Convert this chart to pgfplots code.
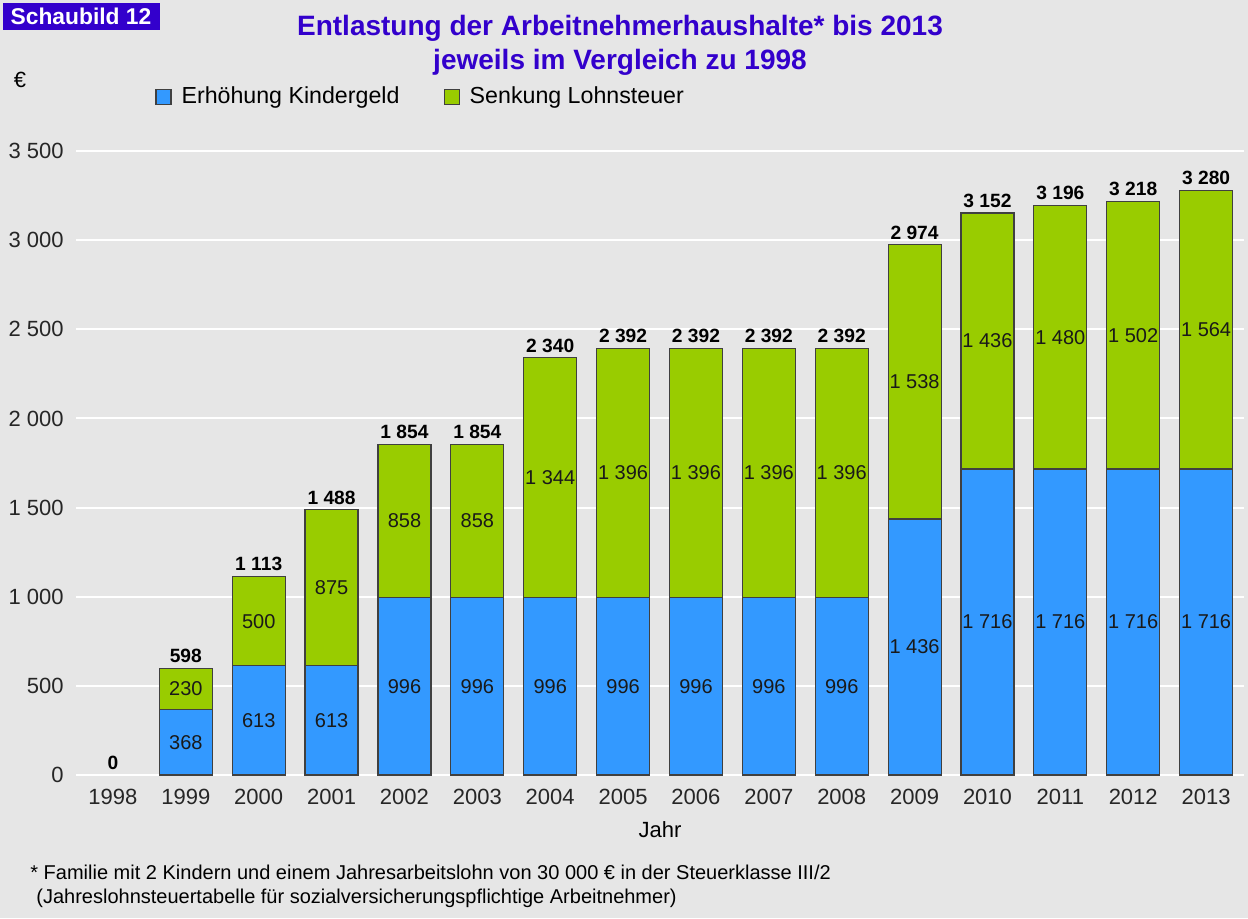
\documentclass[border=0pt]{standalone}
\usepackage{pgfplots}
\pgfplotsset{compat=1.18}
\usepackage{pgfplotstable}
\usepackage{fontspec}
\setmainfont{Liberation Sans}

\definecolor{bg}{HTML}{E6E6E6}
\definecolor{titleblue}{HTML}{3300CC}
\definecolor{kgeld}{HTML}{3399FF}
\definecolor{lsteuer}{HTML}{99CC00}

% x = position, b = Kindergeld, g = Lohnsteuer, t = total
\pgfplotstableread{
x jahr b g t
0 1998 0 0 0
1 1999 368 230 598
2 2000 613 500 1113
3 2001 613 875 1488
4 2002 996 858 1854
5 2003 996 858 1854
6 2004 996 1344 2340
7 2005 996 1396 2392
8 2006 996 1396 2392
9 2007 996 1396 2392
10 2008 996 1396 2392
11 2009 1436 1538 2974
12 2010 1716 1436 3152
13 2011 1716 1480 3196
14 2012 1716 1502 3218
15 2013 1716 1564 3280
}\data

\pgfplotsset{
  common/.style={
    at={(38pt,71.5pt)}, anchor=south west,
    scale only axis, width=584pt, height=312pt,
    xmin=-0.507, xmax=15.52, ymin=0, ymax=3500,
    /pgf/number format/assume math mode=true,
    /pgf/number format/1000 sep={\ },
  },
}

\begin{document}
\begin{tikzpicture}
\fill[bg] (0,0) rectangle (624pt,459pt);

% label box top left
\fill[titleblue] (1.5pt,444pt) rectangle (80pt,457.5pt);
\node[text=white, font=\bfseries\fontsize{11.4}{13}\selectfont] at (40.5pt,450.8pt) {Schaubild 12};

% title
\node[font=\bfseries\fontsize{14}{17}\selectfont, align=center, text=titleblue] at (310pt,436.5pt)
  {Entlastung der Arbeitnehmerhaushalte* bis 2013\\jeweils im Vergleich zu 1998};

\node[font=\fontsize{11}{13}\selectfont] at (10pt,419pt) {€};

\begin{axis}[common,
  ybar stacked, bar width=26.5pt,
  axis line style={draw=none}, major tick style={draw=none},
  ytick={0,500,...,3500},
  ymajorgrids, grid style={white, line width=1pt},
  xtick={0,...,15},
  xticklabels={1998,1999,2000,2001,2002,2003,2004,2005,2006,2007,2008,2009,2010,2011,2012,2013},
  tick label style={font=\fontsize{11}{13}\selectfont, text=black!85},
  yticklabel style={anchor=east, inner sep=0pt, xshift=-6pt},
  xticklabel style={anchor=center, inner sep=0pt, yshift=-11pt},
  xlabel={Jahr},
  xlabel style={at={(axis description cs:0.5,-0.088)}, anchor=center, inner sep=0pt, font=\fontsize{11}{13}\selectfont},
  legend style={at={(axis description cs:0.0676,1.0865)}, anchor=west,
    draw=none, fill=none, legend columns=2, inner sep=0pt,
    font=\fontsize{11.6}{13}\selectfont,
    /tikz/every odd column/.append style={column sep=3pt},
    /tikz/every even column/.append style={column sep=20pt}},
  legend image code/.code={\draw[#1] (0pt,-3.75pt) rectangle (7.5pt,3.75pt);},
]
\addplot[fill=kgeld, draw=black!75, line width=0.6pt, skip coords between index={0}{1}]
  table[x=x, y=b] {\data};
\addlegendentry{Erhöhung Kindergeld}
\addplot[fill=lsteuer, draw=black!75, line width=0.6pt, skip coords between index={0}{1}]
  table[x=x, y=g] {\data};
\addlegendentry{Senkung Lohnsteuer}
\end{axis}

\begin{axis}[common, hide axis, clip=false,
  nodes near coords, point meta=explicit]
\addplot[draw=none, mark=none, skip coords between index={0}{1},
  nodes near coords style={anchor=center, inner sep=0pt, text=black!90, font=\fontsize{10}{11}\selectfont}]
  table[x=x, y expr=\thisrow{b}/2, meta=b] {\data};
\addplot[draw=none, mark=none, skip coords between index={0}{1},
  nodes near coords style={anchor=center, inner sep=0pt, text=black!90, font=\fontsize{10}{11}\selectfont}]
  table[x=x, y expr=\thisrow{b}+\thisrow{g}/2, meta=g] {\data};
\addplot[draw=none, mark=none,
  nodes near coords style={anchor=south, inner sep=0pt, yshift=2.5pt, text=black, font=\bfseries\fontsize{9.6}{11}\selectfont}]
  table[x=x, y=t, meta=t] {\data};
\end{axis}

\node[anchor=west, inner sep=0pt, font=\fontsize{10}{11}\selectfont] at (15pt,23pt)
  {* Familie mit 2 Kindern und einem Jahresarbeitslohn von 30 000 € in der Steuerklasse III/2};
\node[anchor=west, inner sep=0pt, font=\fontsize{10}{11}\selectfont] at (18pt,10pt)
  {(Jahreslohnsteuertabelle für sozialversicherungspflichtige Arbeitnehmer)};
\end{tikzpicture}
\end{document}
